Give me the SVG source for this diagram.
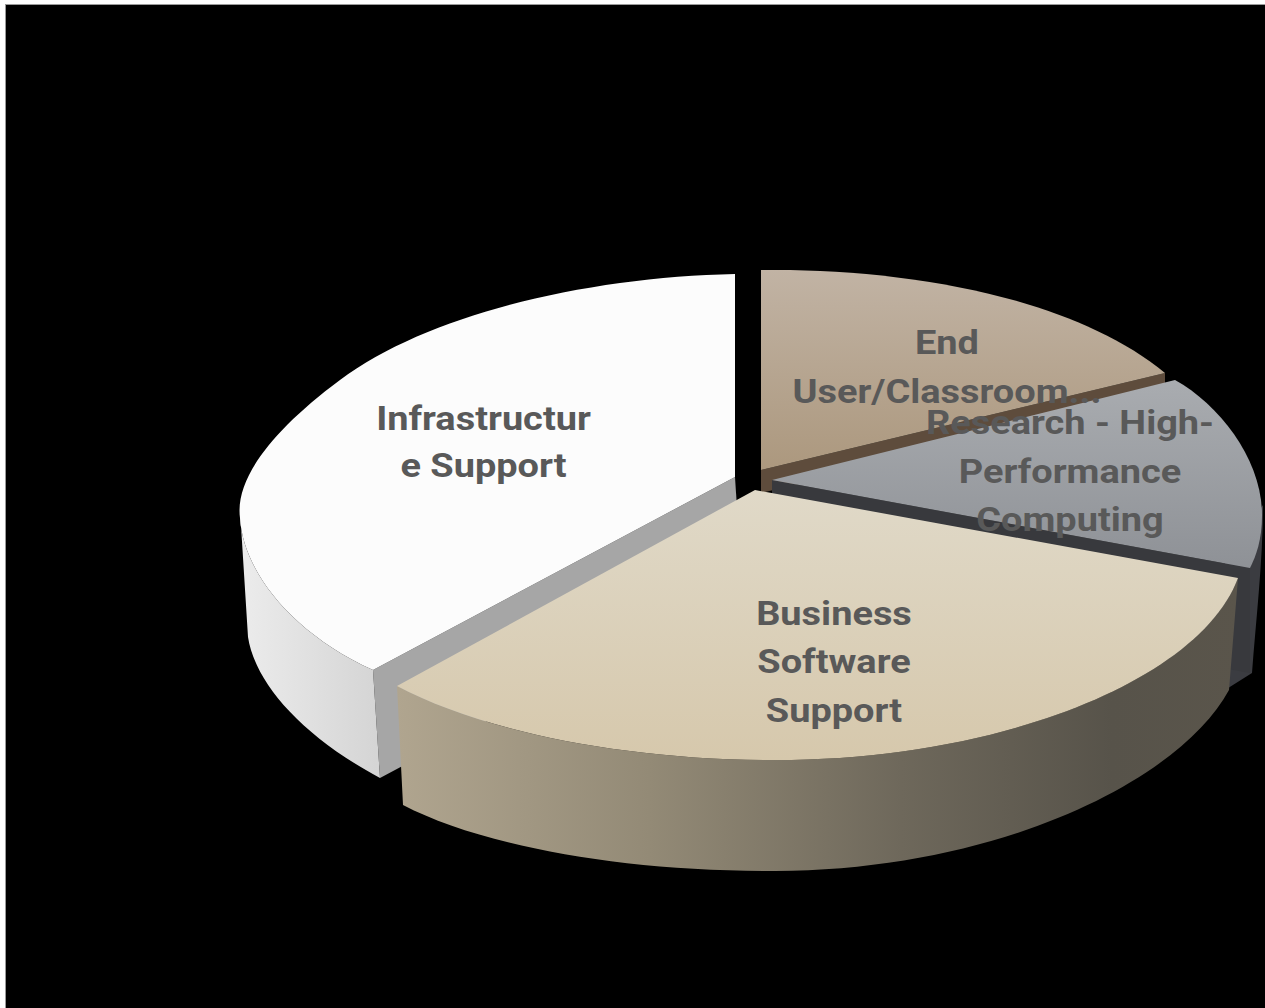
<svg xmlns="http://www.w3.org/2000/svg" width="1265" height="1008" viewBox="0 0 1265 1008">
  <defs>
    <linearGradient id="gTanSide" gradientUnits="userSpaceOnUse" x1="397" y1="0" x2="1238" y2="0">
      <stop offset="0" stop-color="#b0a58f"/>
      <stop offset="0.3" stop-color="#938a76"/>
      <stop offset="0.6" stop-color="#6e685b"/>
      <stop offset="0.85" stop-color="#57534a"/>
      <stop offset="1" stop-color="#5a554b"/>
    </linearGradient>
    <linearGradient id="gTanTop" gradientUnits="userSpaceOnUse" x1="0" y1="490" x2="0" y2="760">
      <stop offset="0" stop-color="#e0d9c8"/>
      <stop offset="1" stop-color="#d6c8ac"/>
    </linearGradient>
    <linearGradient id="gWhiteSide" gradientUnits="userSpaceOnUse" x1="240" y1="0" x2="382" y2="0">
      <stop offset="0" stop-color="#ececec"/>
      <stop offset="1" stop-color="#d4d4d4"/>
    </linearGradient>
    <linearGradient id="gResTop" gradientUnits="userSpaceOnUse" x1="0" y1="380" x2="0" y2="570">
      <stop offset="0" stop-color="#a9acb0"/>
      <stop offset="1" stop-color="#8e9196"/>
    </linearGradient>
    <linearGradient id="gEndTop" gradientUnits="userSpaceOnUse" x1="0" y1="270" x2="0" y2="470">
      <stop offset="0" stop-color="#c1b3a4"/>
      <stop offset="1" stop-color="#ac987e"/>
    </linearGradient>
    <style>
      .lbl { font-family: Roboto, "Liberation Sans", sans-serif; font-weight: bold; font-size: 33px; fill: #595959; text-anchor: middle; }
    </style>
  </defs>

  <rect x="0" y="0" width="1265" height="1008" fill="#ffffff"/>
  <rect x="5.5" y="4.5" width="1260" height="1004" fill="#000000" stroke="#9a9a9a" stroke-width="1"/>

  <g id="connectors"></g>

  <g id="slice-infrastructure">
    <path d="M735,477 L373,670 L380,778 L742,585 Z" fill="#a6a6a6"/>
    <path d="M240,510 L248,637 C255,682 300,735 380,778 L373,670 C290,632 243,570 240,518 Z" fill="url(#gWhiteSide)"/>
    <path d="M735,274 C590,277 430,313 340,380 C270,432 235,480 240,518 C243,570 290,632 373,670 L735,477 Z" fill="#fcfcfc"/>
  </g>

  <g id="slice-enduser">
    <path d="M761,470 L1165,373 L1165,396 L761,493 Z" fill="#5e4c3c"/>
    <path d="M761,270 C900,268 1070,295 1165,373 L761,470 Z" fill="url(#gEndTop)"/>
  </g>

  <g id="slice-research">
    <path d="M1263,505 C1263,560 1256,620 1252,673 L1225,690 L1225,560 Z" fill="#3b3c41"/>
    <path d="M772,480 L1250,568 L1250,673 L772,585 Z" fill="#38393d"/>
    <path d="M772,480 L1175,380 C1220,405 1262,460 1262,515 C1262,540 1256,556 1250,568 Z" fill="url(#gResTop)"/>
  </g>

  <g id="slice-business">
    <path d="M397,686 L403,805 C480,845 620,872 775,871 C1000,870 1180,780 1229,690 L1238,578 C1200,680 1000,760 775,760 C620,760 480,730 397,686 Z" fill="url(#gTanSide)"/>
    <path d="M755,490 L1238,578 C1200,680 1000,760 775,760 C620,760 480,730 397,686 Z" fill="url(#gTanTop)"/>
  </g>

  <g id="labels">
    <g transform="translate(483.5 0) scale(1.15 1)">
      <text class="lbl" x="0" y="430">Infrastructur</text>
      <text class="lbl" x="0" y="477">e Support</text>
    </g>
    <g transform="translate(947 0) scale(1.15 1)">
      <text class="lbl" x="0" y="354">End</text>
      <text class="lbl" x="0" y="403">User/Classroom...</text>
    </g>
    <g transform="translate(1070 0) scale(1.15 1)">
      <text class="lbl" x="0" y="434">Research - High-</text>
      <text class="lbl" x="0" y="483">Performance</text>
      <text class="lbl" x="0" y="531">Computing</text>
    </g>
    <g transform="translate(834 0) scale(1.15 1)">
      <text class="lbl" x="0" y="625">Business</text>
      <text class="lbl" x="0" y="673">Software</text>
      <text class="lbl" x="0" y="722">Support</text>
    </g>
  </g>
</svg>
